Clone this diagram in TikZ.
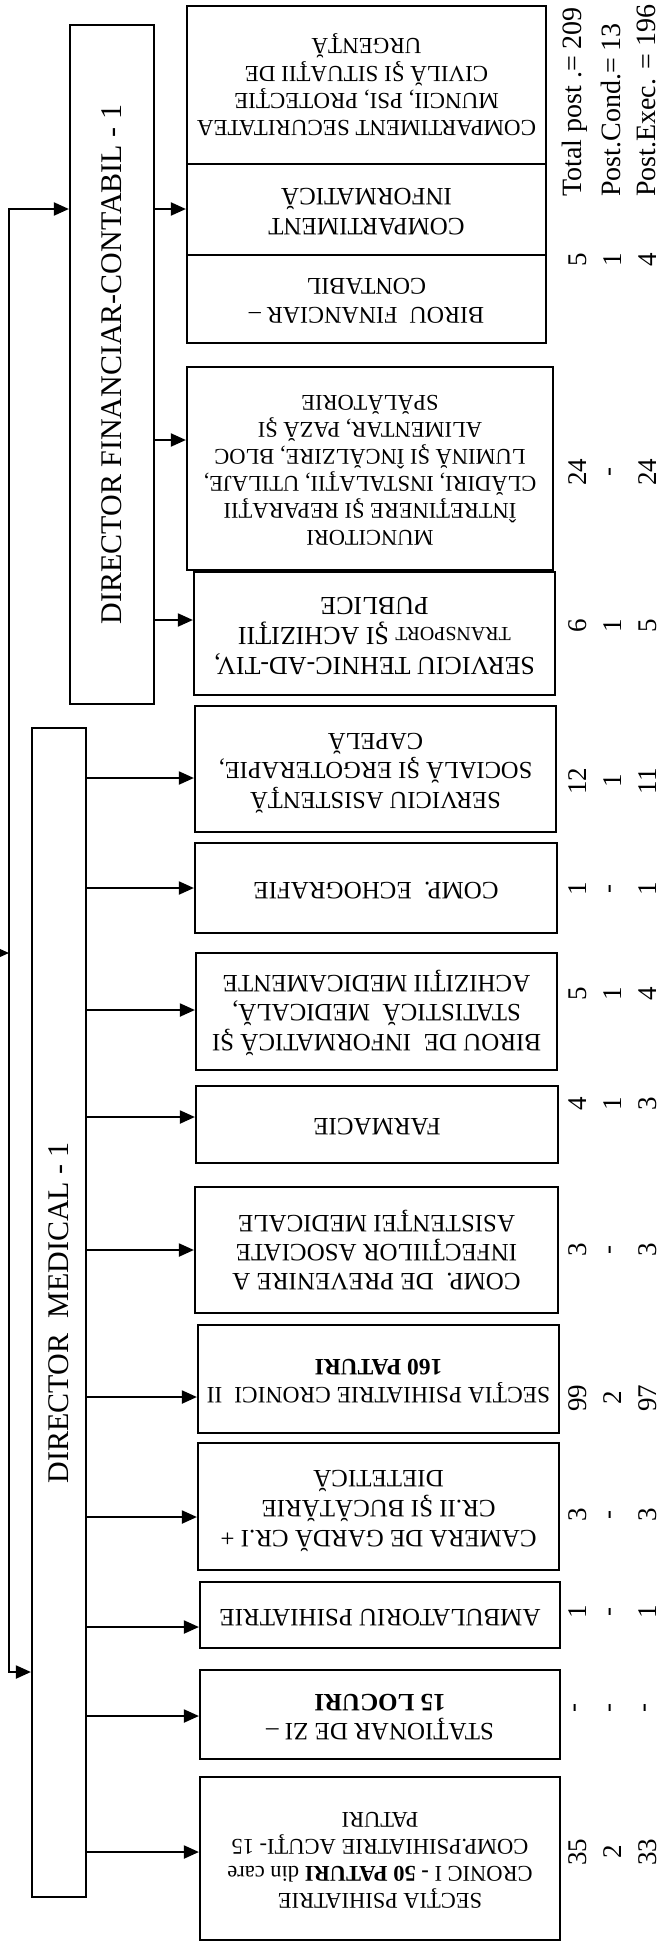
\documentclass[tikz,border=0pt]{standalone}
\usepackage{fontspec}
\setmainfont{Liberation Serif}
\usetikzlibrary{arrows.meta}

\newcommand{\invtext}[1]{\rotatebox[origin=c]{180}{\begin{tabular}{@{}c@{}}#1\end{tabular}}}
\newcommand{\sustext}[1]{\rotatebox[origin=c]{90}{#1}}

\tikzset{
  unit/.style 2 args={draw, line width=2.2pt, inner sep=0pt, font=\fontsize{#1}{#2}\selectfont},
  director/.style={draw, line width=2.2pt, inner sep=0pt, font=\fontsize{30}{36}\selectfont},
  sag/.style={line width=2pt, -{Triangle[length=15pt,width=13pt]}},
  nr/.style={rotate=90, inner sep=0pt, font=\fontsize{27}{32}\selectfont},
}

\begin{document}
\begin{tikzpicture}[x=1pt,y=-1pt]
  \fill[white] (0,0) rectangle (672,1944);
  \useasboundingbox (0,0) rectangle (672,1944);
  \node[director, minimum width=84pt, minimum height=679pt] (dirfin) at (112,364.5) {\sustext{DIRECTOR FINANCIAR-CONTABIL - 1}};
  \node[director, minimum width=54pt, minimum height=1169pt] (dirmed) at (59,1312.5) {\sustext{DIRECTOR~~MEDICAL - 1}};
  \coordinate (bustop) at (9,209);
  \coordinate (busbot) at (9,1672);
  \coordinate (intrare) at (-20,953);
  \draw[sag] (busbot) -- (bustop) -- (dirfin.west |- bustop);
  \draw[sag] (bustop) -- (busbot) -- (dirmed.west |- busbot);
  \draw[sag] (intrare) -- (intrare -| bustop);
  \node[unit={23}{27}, minimum width=359pt, minimum height=158pt] (secmunca) at (366.5,85) {\invtext{COMPARTIMENT SECURITATEA\\MUNCII, PSI, PROTECŢIE\\CIVILĂ ŞI SITUAŢII DE\\URGENŢĂ}};
  \node[unit={25}{29}, minimum width=359pt, minimum height=91pt] (compinfo) at (366.5,209.5) {\invtext{COMPARTIMENT\\INFORMATICĂ}};
  \node[unit={24}{29}, minimum width=359pt, minimum height=88pt] (birou) at (366.5,299) {\invtext{BIROU~~FINANCIAR –\\CONTABIL}};
  \node[unit={22.5}{26}, minimum width=366pt, minimum height=203pt] (muncitori) at (370,468.5) {\invtext{MUNCITORI\\ÎNTREŢINERE ŞI REPARAŢII\\CLĂDIRI, INSTALAŢII, UTILAJE,\\LUMINĂ ŞI ÎNCĂLZIRE, BLOC\\ALIMENTAR, PAZĂ ŞI\\SPĂLĂTORIE}};
  \node[unit={26}{30}, minimum width=361pt, minimum height=123pt] (tehnic) at (374.5,633.5) {\invtext{SERVICIU TEHNIC-AD-TIV,\\{\fontsize{20}{30}\selectfont TRANSPORT} ŞI ACHIZIŢII\\PUBLICE}};
  \node[unit={24.5}{29}, minimum width=361pt, minimum height=126pt] (asist) at (375.5,769) {\invtext{SERVICIU ASISTENŢĂ\\SOCIALĂ ŞI ERGOTERAPIE,\\CAPELĂ}};
  \node[unit={25}{29}, minimum width=362pt, minimum height=90pt] (echo) at (376,888) {\invtext{COMP.~~ECHOGRAFIE}};
  \node[unit={25}{29}, minimum width=361pt, minimum height=117pt] (biroumed) at (376.5,1011.5) {\invtext{BIROU DE~~INFORMATICĂ ŞI\\STATISTICĂ~~MEDICALĂ,\\ACHIZIŢII MEDICAMENTE}};
  \node[unit={25}{29}, minimum width=362pt, minimum height=77pt] (farm) at (377,1124.5) {\invtext{FARMACIE}};
  \node[unit={25}{29}, minimum width=363pt, minimum height=126pt] (prev) at (376.5,1250) {\invtext{COMP.~~DE PREVENIRE A\\INFECŢIILOR ASOCIATE\\ASISTENŢEI MEDICALE}};
  \node[unit={23.5}{28}, minimum width=361pt, minimum height=108pt] (cronici2) at (378.5,1379) {\invtext{SECŢIA PSIHIATRIE CRONICI~~II\\\textbf{160 PATURI}}};
  \node[unit={25}{29}, minimum width=361pt, minimum height=127pt] (camera) at (378.5,1506.5) {\invtext{CAMERA DE GARDĂ CR.I +\\CR.II ŞI BUCĂTĂRIE\\DIETETICĂ}};
  \node[unit={25}{29}, minimum width=360pt, minimum height=66pt] (ambul) at (380,1615) {\invtext{AMBULATORIU PSIHIATRIE}};
  \node[unit={25}{29}, minimum width=360pt, minimum height=89pt] (stationar) at (380,1714.5) {\invtext{STAŢIONAR DE ZI –\\\textbf{15 LOCURI}}};
  \node[unit={22.5}{27}, minimum width=360pt, minimum height=163pt] (sectia1) at (380,1858.5) {\invtext{SECŢIA PSIHIATRIE\\CRONIC I \textbf{- 50 PATURI} din care\\COMP.PSIHIATRIE ACUŢI- 15\\PATURI}};
  \foreach \b/\y in {compinfo/209, muncitori/440, tehnic/620}
    \draw[sag] (dirfin.east |- 0,\y) -- (\b.west |- 0,\y);
  \foreach \b/\y in {asist/778, echo/888, biroumed/1010, farm/1117, prev/1250, cronici2/1397, camera/1517, ambul/1627, stationar/1716, sectia1/1852}
    \draw[sag] (dirmed.east |- 0,\y) -- (\b.west |- 0,\y);
  \node[nr, anchor=west, font=\fontsize{28}{32}\selectfont] (totalpost) at (575,197) {Total post .= 209};
  \node[nr, anchor=west, font=\fontsize{28}{32}\selectfont] (postcond) at (611,197) {Post.Cond.= 13};
  \node[nr, anchor=west, font=\fontsize{28}{32}\selectfont] (postexec) at (646,197) {Post.Exec. = 196};
  \foreach \b/\y/\t/\c/\e in {grup/260/5/1/4, muncitori/472/24/-/24, tehnic/626/6/1/5, asist/781/12/1/11, echo/889/1/-/1, biroumed/994/5/1/4, farm/1104/4/1/3, prev/1250/3/-/3, cronici2/1398/99/2/97, camera/1515/3/-/3, ambul/1612/1/-/1, stationar/1708/-/-/-, sectia1/1852/35/2/33}{
    \node[nr] (\b-tot) at (578,\y) {\t};
    \node[nr] (\b-cond) at (613,\y) {\c};
    \node[nr] (\b-exec) at (648,\y) {\e};
  }
\end{tikzpicture}
\end{document}
